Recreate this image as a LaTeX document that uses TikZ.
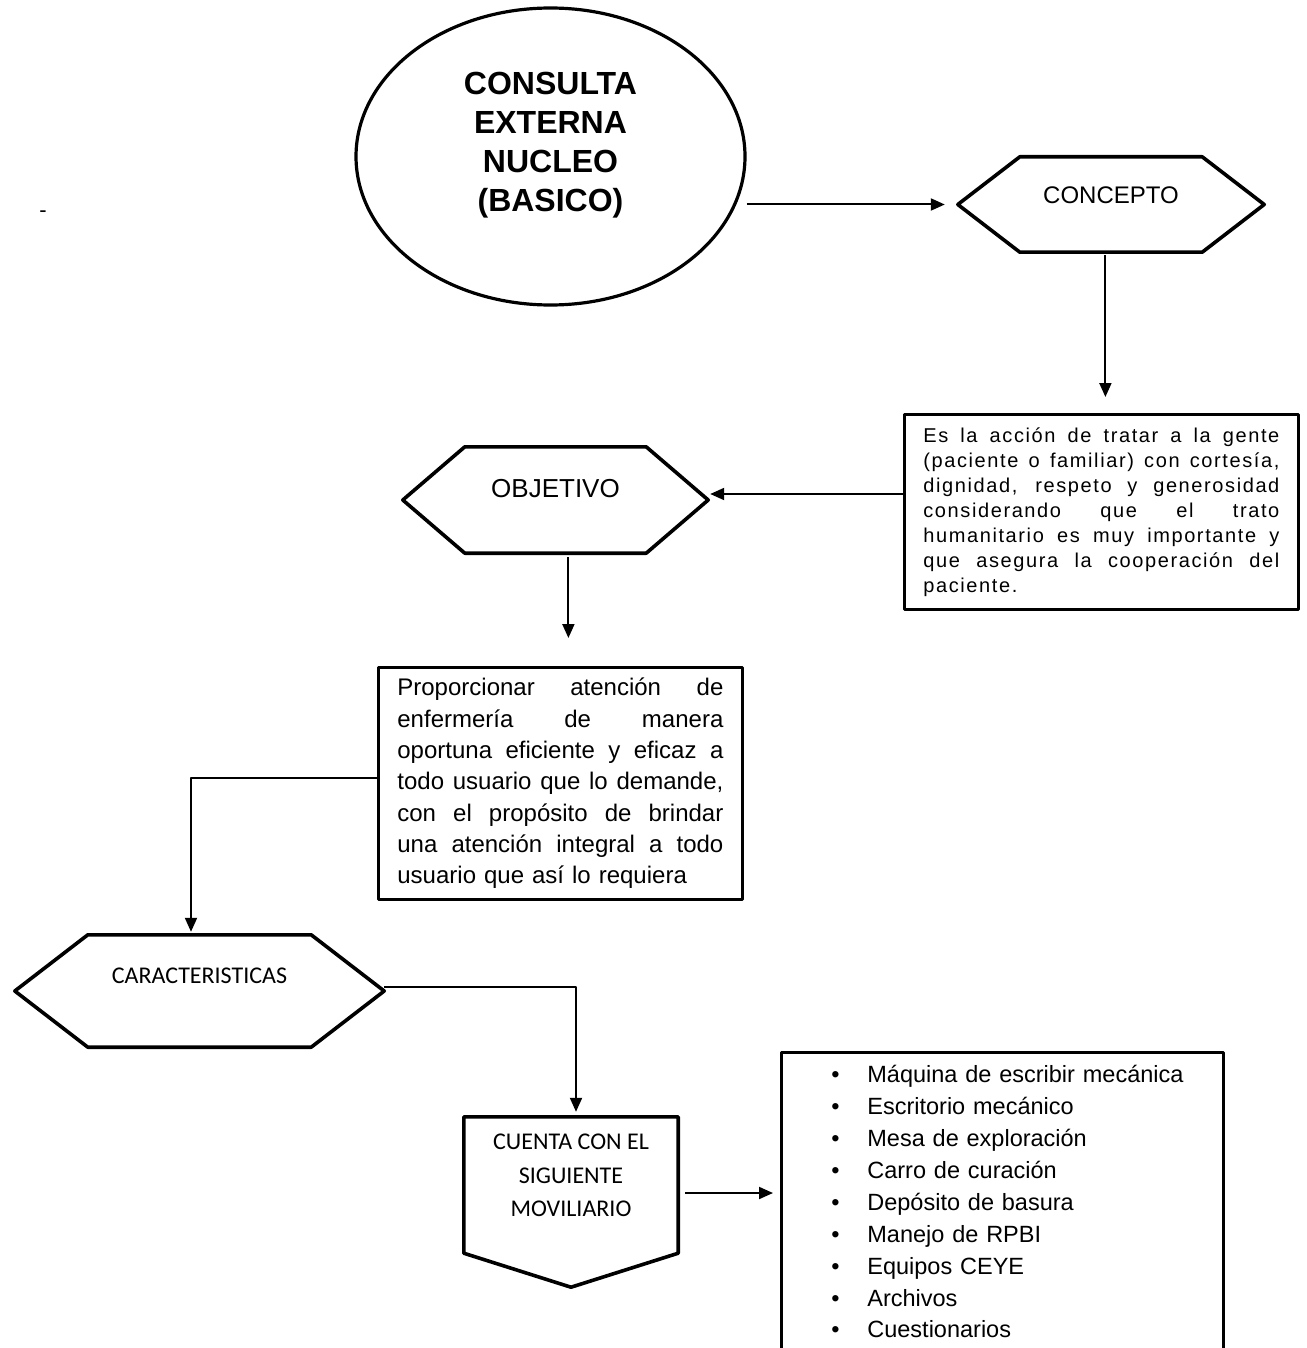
\documentclass[tikz,border=0pt]{standalone}
\usepackage{fontspec}
\setmainfont{Liberation Sans}
\newfontfamily\calibfont{Carlito}
\newfontfamily\spacedfont[LetterSpace=8]{Liberation Sans}
\usetikzlibrary{arrows.meta,shapes.geometric}
\newcommand{\Stroke}{3.6pt}
\newcommand{\Frame}{2.8pt}
\newcommand{\Wire}{2pt}
\definecolor{ink}{HTML}{000000}
% one justified line of a paragraph, broken where the original breaks it
% (align=left fixes \spaceskip, so give the spaces their stretch back)
\newcommand{\JLine}[2]{{\spaceskip=\fontdimen2\font plus 1fil\makebox[#1][s]{#2}}}
% flat hexagon round a named (invisible) node, #2 = depth of the points
\newcommand{\HexOutline}[2]{%
  \draw[shapeline] (#1.west) -- ([xshift=#2]#1.north west) -- ([xshift=-#2]#1.north east)
    -- (#1.east) -- ([xshift=-#2]#1.south east) -- ([xshift=#2]#1.south west) -- cycle;}
\newcommand{\Item}[1]{\hspace*{50pt}\makebox[36pt][l]{\textbullet}#1}

\tikzset{
  shapeline/.style={draw=ink,line width=\Stroke},
  hexbox/.style={draw=none,inner sep=0pt},
  textbox/.style={draw=ink,line width=\Frame,anchor=north west,align=left},
  arrow/.style={draw=ink,line width=\Wire,-{Triangle[length=14pt,width=12pt]}},
}

\begin{document}
\begin{tikzpicture}[x=1pt,y=-1pt,line join=round]
  \useasboundingbox (0,0) rectangle (1306,1348);
  \clip (0,0) rectangle (1306,1348);

  % ---- title ellipse ------------------------------------------------------
  \node[ellipse,draw=ink,line width=3.2pt,minimum width=389,minimum height=297,inner sep=0pt,
    label={[font=\fontsize{32}{39}\selectfont\bfseries,align=center,yshift=11.5]center:CONSULTA\\EXTERNA\\NUCLEO\\(BASICO)}]
    (consulta) at (550.5,156.5) {};
  \node[font=\fontsize{22}{24}\selectfont] (guion) at (43,214) {-};

  % ---- hexagons -----------------------------------------------------------
  \node[hexbox,minimum width=306,minimum height=95,
    label={[yshift=9.5,font=\fontsize{24}{28}\selectfont]center:CONCEPTO}] (concepto) at (1111,204.5) {};
  \HexOutline{concepto}{62}
  \node[hexbox,minimum width=305,minimum height=106,
    label={[yshift=11,font=\fontsize{26}{30}\selectfont]center:OBJETIVO}] (objetivo) at (555.5,500) {};
  \HexOutline{objetivo}{62}
  \node[hexbox,minimum width=369,minimum height=112,
    label={[yshift=15,font=\calibfont\fontsize{24}{28}\selectfont]center:CARACTERISTICAS}] (caract) at (199.5,991) {};
  \HexOutline{caract}{73}

  % ---- the down-pointing tag ----------------------------------------------
  \node[hexbox,minimum width=214,minimum height=170,
    label={[yshift=26.5,align=center,font=\calibfont\fontsize{24}{33.5}\selectfont]center:CUENTA CON EL\\SIGUIENTE\\MOVILIARIO}]
    (cuenta) at (571,1202) {};
  \draw[shapeline] (cuenta.north west) -- (cuenta.north east) -- ([yshift=34]cuenta.south east)
    -- (cuenta.south) -- ([yshift=34]cuenta.south west) -- cycle;

  % ---- text boxes ---------------------------------------------------------
  \node[textbox,minimum width=394,minimum height=195,text width=356,inner xsep=19,
    font=\spacedfont\fontsize{20}{25}\selectfont] (def) at (903,413) {%
    \JLine{356pt}{Es la acción de tratar a la gente}\\
    \JLine{356pt}{(paciente o familiar) con cortesía,}\\
    \JLine{356pt}{dignidad, respeto y generosidad}\\
    \JLine{356pt}{considerando que el trato}\\
    \JLine{356pt}{humanitario es muy importante y}\\
    \JLine{356pt}{que asegura la cooperación del}\\
    paciente.};
  \node[textbox,minimum width=364,minimum height=232,text width=326,inner xsep=19,
    font=\fontsize{24}{31.3}\selectfont] (goal) at (377,666) {%
    \JLine{326pt}{Proporcionar atención de}\\
    \JLine{326pt}{enfermería de manera}\\
    \JLine{326pt}{oportuna eficiente y eficaz a}\\
    \JLine{326pt}{todo usuario que lo demande,}\\
    \JLine{326pt}{con el propósito de brindar}\\
    \JLine{326pt}{una atención integral a todo}\\
    usuario que así lo requiera};
  % runs off the bottom of the page, as in the original
  \node[textbox,minimum width=442,text width=442,inner xsep=0pt,inner ysep=13,
    font=\fontsize{23.5}{31.9}\selectfont] (lista) at (780,1051) {%
    \Item{Máquina de escribir mecánica}\\
    \Item{Escritorio mecánico}\\
    \Item{Mesa de exploración}\\
    \Item{Carro de curación}\\
    \Item{Depósito de basura}\\
    \Item{Manejo de RPBI}\\
    \Item{Equipos CEYE}\\
    \Item{Archivos}\\
    \Item{Cuestionarios}\\[14pt]};

  % ---- connectors ---------------------------------------------------------
  \draw[arrow,shorten >=13pt] (consulta.east |- concepto.west) -- (concepto.west);
  \draw[arrow,shorten <=3pt,shorten >=16pt] ([xshift=4]def.north |- concepto.south) -- ([xshift=4]def.north);
  \draw[arrow,shorten >=2pt] ([yshift=6]objetivo.east -| def.west) -- ([yshift=6]objetivo.east);
  \draw[arrow,shorten <=4pt,shorten >=28pt] ([xshift=8]goal.north |- objetivo.south) -- ([xshift=8]goal.north);
  \draw[arrow,shorten >=3pt] ([yshift=5]goal.west) -| ([xshift=-8.5]caract.north);
  \draw[arrow,shorten >=5pt] ([yshift=4]caract.east) -| ([xshift=5]cuenta.north);
  \draw[arrow,shorten <=7pt,shorten >=7pt] ([yshift=9]cuenta.east) -- ([yshift=9]cuenta.east -| lista.west);

\end{tikzpicture}
\end{document}
